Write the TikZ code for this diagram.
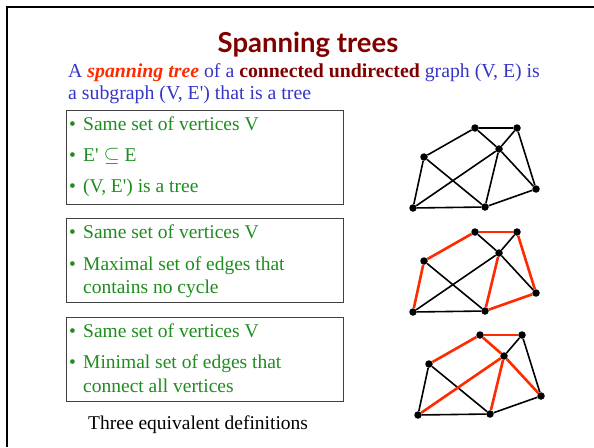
\documentclass[tikz,border=0pt]{standalone}
\usepackage{fontspec}
\setmainfont{Liberation Serif}
\newfontfamily\titlefont{Lato}
\usepackage{tikz}
\usetikzlibrary{calc,arrows.meta,positioning}
\definecolor{st-title}{HTML}{800000}
\definecolor{st-blue}{HTML}{3535C8}
\definecolor{st-red}{HTML}{FF2A00}
\definecolor{st-green}{HTML}{1E8C1E}
\definecolor{st-box}{HTML}{404040}
\newcommand{\stbul}{\makebox[14pt][l]{\textbullet}}

\begin{document}
\begin{tikzpicture}[x=1pt, y=-1pt,
    txt/.style={inner sep=0pt, anchor=base west, font=\fontsize{19.5}{23}\selectfont},
    item/.style={txt, st-green},
    defbox/.style={draw=st-box, line width=1pt, minimum width=277pt},
    vtx/.style={circle, fill=black, inner sep=0pt, minimum size=7.5pt},
    edge/.style={black, line width=1.6pt},
    tedge/.style={st-red, line width=2.6pt}]
    \useasboundingbox (0,0) rectangle (594,447);
    % slide frame
    \draw[line width=2.5pt] (7,447) -- (7,7) -- (594,7);

    \node[inner sep=0pt, anchor=base, st-title, font=\titlefont\bfseries\fontsize{27.5}{31}\selectfont] (title) at (308,52) {Spanning trees};
    \node[txt, st-blue, font=\fontsize{19.8}{23}\selectfont] (intro1) at (68,77) {A \textcolor{st-red}{\textbf{\textit{spanning tree}}} of a \textcolor{st-title}{\textbf{connected undirected}} graph (V, E) is};
    \node[txt, st-blue, font=\fontsize{19.8}{23}\selectfont] (intro2) at (68,99) {a subgraph (V, E\textquotesingle) that is a tree};

    % three definitions
    \node[defbox, minimum height=94pt] (def1) at (204.5,157) {};
    \node[item] (d1a) at (69,130) {\stbul Same set of vertices V};
    \node[item] (d1b) at (69,161) {\stbul E\textquotesingle\ $\subseteq$ E};
    \node[item] (d1c) at (69,192) {\stbul (V, E\textquotesingle) is a tree};

    \node[defbox, minimum height=84pt] (def2) at (204.5,260) {};
    \node[item] (d2a) at (69,238) {\stbul Same set of vertices V};
    \node[item] (d2b) at (69,270) {\stbul Maximal set of edges that};
    \node[item] (d2c) at (83,293) {contains no cycle};

    \node[defbox, minimum height=84pt] (def3) at (204.5,359) {};
    \node[item] (d3a) at (69,337) {\stbul Same set of vertices V};
    \node[item] (d3b) at (69,368) {\stbul Minimal set of edges that};
    \node[item] (d3c) at (83,392) {connect all vertices};

    \node[txt] (caption) at (88,429) {Three equivalent definitions};

    % the three graphs
    \foreach \g/\sx/\sy in {1/0/0, 2/0/104, 3/5/207}
      \foreach \v/\x/\y in {lb/413/208, lm/424/157, tl/475/128, tr/517/128, ct/499/149, rt/536/189, bm/485/207}
        \node[vtx] (g\g\v) at (\x+\sx,\y+\sy) {};

    \foreach \u/\v in {lb/lm, lm/tl, tl/tr, tl/ct, tr/ct, tr/rt, ct/rt, ct/bm, ct/lb, lm/bm, lb/bm, bm/rt}
      \draw[edge] (g1\u) -- (g1\v);

    \foreach \u/\v in {ct/tl, ct/tr, ct/rt, ct/lb, lm/bm, lb/bm}
      \draw[edge] (g2\u) -- (g2\v);
    \foreach \u/\v in {lb/lm, lm/tl, tl/tr, tr/rt, rt/bm, bm/ct}
      \draw[tedge] (g2\u) -- (g2\v);

    \foreach \u/\v in {lb/lm, tr/ct, tr/rt, lm/bm, lb/bm, bm/rt}
      \draw[edge] (g3\u) -- (g3\v);
    \foreach \u/\v in {lm/tl, tl/tr, tl/ct, ct/lb, ct/bm, ct/rt}
      \draw[tedge] (g3\u) -- (g3\v);
\end{tikzpicture}
\end{document}
